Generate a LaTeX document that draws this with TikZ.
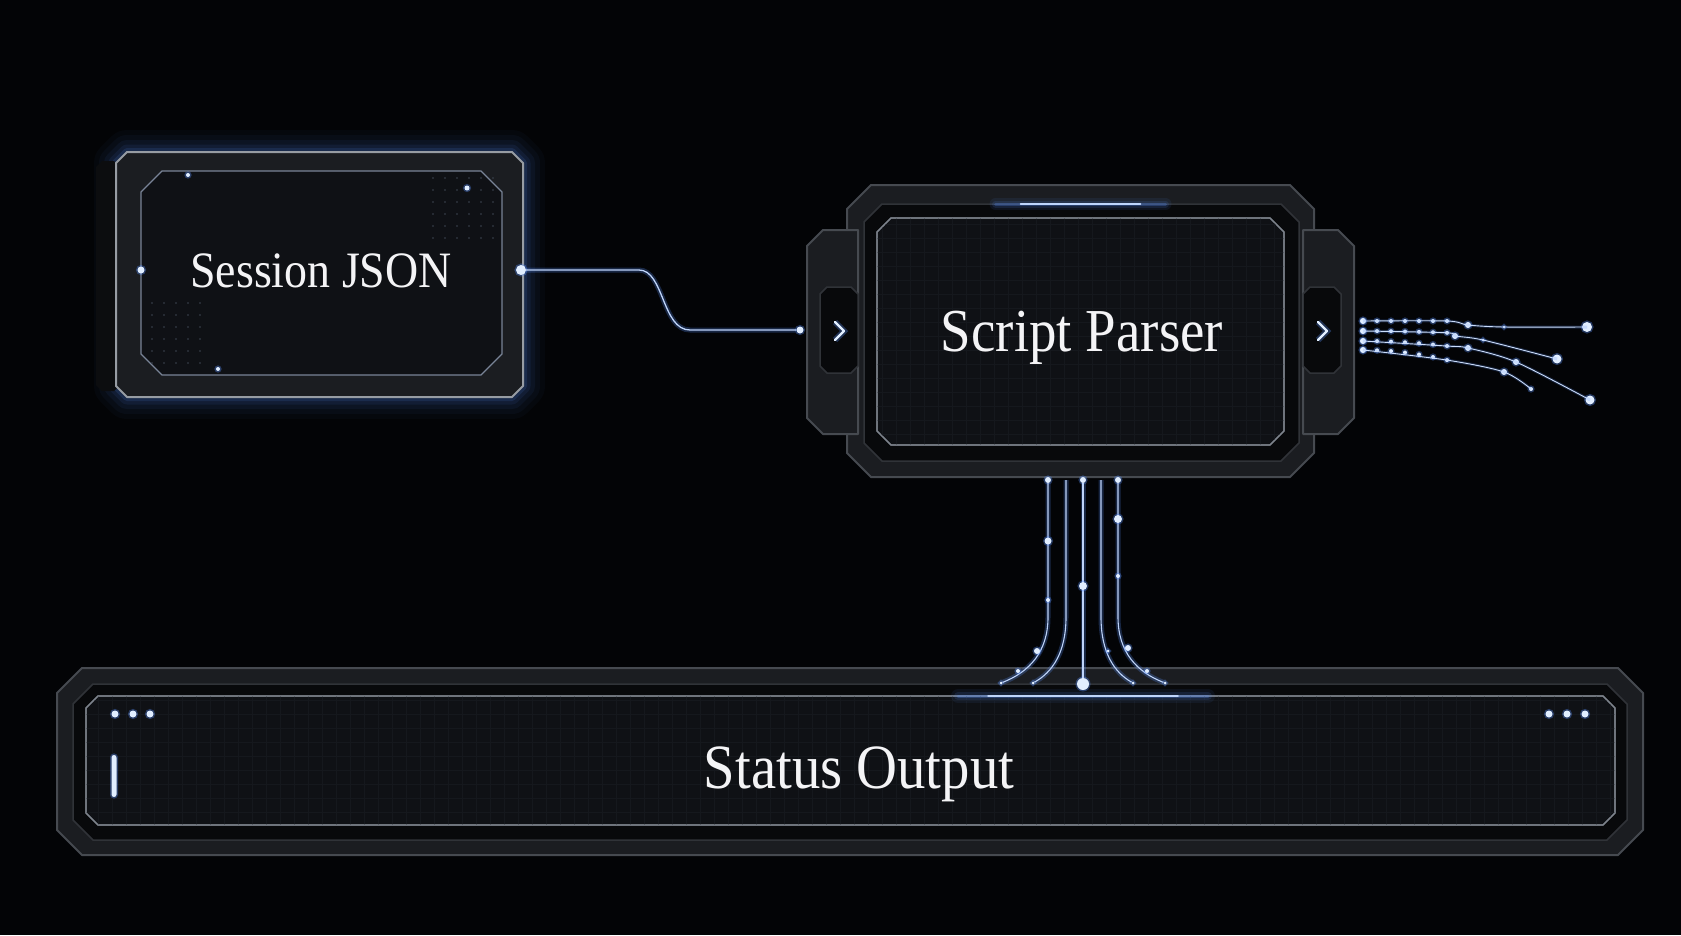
\documentclass[tikz,border=0pt]{standalone}
\usepackage{fontspec}
\setmainfont{Liberation Serif}[FakeStretch=0.9]
\usetikzlibrary{calc, positioning}
\usepackage{xcolor}
\definecolor{bgcolor}{RGB}{3, 4, 6}
\definecolor{bodycolor}{RGB}{27, 29, 33}
\definecolor{bodyedge}{RGB}{70, 74, 80}
\definecolor{slabcolor}{RGB}{12, 13, 15}
\definecolor{framecolor}{RGB}{8, 9, 11}
\definecolor{frameedge}{RGB}{48, 51, 56}
\definecolor{panelcolor}{RGB}{15, 17, 21}
\definecolor{paneledge}{RGB}{125, 131, 140}
\definecolor{gridcolor}{RGB}{21, 24, 29}
\definecolor{faintdot}{RGB}{60, 68, 80}
\definecolor{glowcolor}{RGB}{90, 145, 255}
\definecolor{wirecolor}{RGB}{190, 212, 250}
\definecolor{dotcolor}{RGB}{225, 238, 255}
\definecolor{textcolor}{RGB}{244, 244, 246}

% chamfered outline round a named area node
\newcommand{\chamferpath}[2]{($(#1.north west)+(#2,0)$) -- ($(#1.north east)+(-#2,0)$) -- ($(#1.north east)+(0,#2)$) -- ($(#1.south east)+(0,-#2)$) -- ($(#1.south east)+(-#2,0)$) -- ($(#1.south west)+(#2,0)$) -- ($(#1.south west)+(0,-#2)$) -- ($(#1.north west)+(0,#2)$) -- cycle}

\begin{document}
\begin{tikzpicture}[x=1pt, y=-1pt,
    area/.style={rectangle, inner sep=0pt, outer sep=0pt},
    body/.style={fill=bodycolor, draw=bodyedge, line width=2pt, line join=round},
    frame/.style={fill=framecolor, draw=frameedge, line width=1.5pt},
    panel/.style={fill=panelcolor, draw=paneledge, line width=1.2pt},
    title/.style={anchor=base, inner sep=0pt, text=textcolor, font=\fontsize{#1}{#1}\selectfont},
    dot/.style={circle, inner sep=0pt, minimum size=#1, fill=dotcolor,
                preaction={draw=glowcolor, line width=3pt, draw opacity=.35}},
    dot/.default=4pt,
    wire/.style={draw=wirecolor, line width=1.3pt,
                 preaction={draw=glowcolor, line width=5pt, draw opacity=.25}},
    thinwire/.style={draw=wirecolor!80, line width=0.9pt,
                     preaction={draw=glowcolor, line width=3pt, draw opacity=.2}},
    chevron/.style={draw=dotcolor, line width=2.2pt, line cap=round, line join=round,
                    preaction={draw=glowcolor, line width=6pt, draw opacity=.3}},
    glowline/.style={draw=glowcolor, line cap=round}
]

% background
\fill[bgcolor] (0,0) rectangle (1681,935);
\useasboundingbox (0,0) rectangle (1681,935);

% areas
\node[area, minimum width=407pt, minimum height=245pt] (json) at (319.5,274.5) {};
\node[area, minimum width=361pt, minimum height=204pt] (jsonpanel) at (321.5,273) {};
\node[area, minimum width=24pt, minimum height=230pt] (jsonside) at (108,276) {};

\node[area, minimum width=467pt, minimum height=292pt] (parser) at (1080.5,331) {};
\node[area, minimum width=435pt, minimum height=257pt] (parserframe) at (1081.5,332.5) {};
\node[area, minimum width=407pt, minimum height=227pt] (parserpanel) at (1080.5,331.5) {};
\node[area, minimum width=51pt, minimum height=204pt] (lefttab) at (832.5,332) {};
\node[area, minimum width=51pt, minimum height=204pt] (righttab) at (1328.5,332) {};
\node[area, minimum width=38pt, minimum height=86pt] (leftslot) at (839,330) {};
\node[area, minimum width=38pt, minimum height=86pt] (rightslot) at (1322,330) {};

\node[area, minimum width=1586pt, minimum height=187pt] (status) at (850,761.5) {};
\node[area, minimum width=1554pt, minimum height=156pt] (statusframe) at (850,762) {};
\node[area, minimum width=1529pt, minimum height=129pt] (statuspanel) at (850.5,760.5) {};

% Session JSON
\foreach \w/\o in {44/.03, 34/.04, 24/.06, 15/.08, 8/.12}
    \draw[glowcolor, line width=\w pt, draw opacity=\o, line join=round] \chamferpath{json}{11};
\fill[slabcolor] \chamferpath{jsonside}{6};
\draw[body, draw=paneledge!80] \chamferpath{json}{11};
\draw[panel, draw=paneledge!90!glowcolor] \chamferpath{jsonpanel}{21};
\foreach \i in {0,...,5}
    \foreach \j in {0,...,5}
        \fill[faintdot] (433+\i*12, 178+\j*12) circle (0.9);
\foreach \i in {0,...,4}
    \foreach \j in {0,...,5}
        \fill[faintdot] (152+\i*12, 303+\j*12) circle (0.9);
\node[dot=4pt] (jsonspark1) at (188,175) {};
\node[dot=5pt] (jsonspark2) at (467,188) {};
\node[dot=4pt] (jsonspark3) at (218,369) {};
\node[dot=7pt] (jsonin) at (141,270) {};
\node[dot=10pt] (jsonout) at (521,270) {};
\node[title=51] (jsonlabel) at (321,287) {Session JSON};

% Script Parser
\draw[body] \chamferpath{parser}{24};
\filldraw[body] (lefttab.north east) -- ($(lefttab.north west)+(16,0)$) -- ($(lefttab.north west)+(0,16)$)
    -- ($(lefttab.south west)+(0,-16)$) -- ($(lefttab.south west)+(16,0)$) -- (lefttab.south east) -- cycle;
\filldraw[body] (righttab.north west) -- ($(righttab.north east)+(-16,0)$) -- ($(righttab.north east)+(0,16)$)
    -- ($(righttab.south east)+(0,-16)$) -- ($(righttab.south east)+(-16,0)$) -- (righttab.south west) -- cycle;
\draw[frame] \chamferpath{leftslot}{7};
\draw[frame] \chamferpath{rightslot}{7};
\draw[frame] \chamferpath{parserframe}{18};
\draw[panel] \chamferpath{parserpanel}{14};
\begin{scope}
    \clip \chamferpath{parserpanel}{14};
    \draw[gridcolor, line width=0.6pt, step=14pt] (parserpanel.north west) grid (parserpanel.south east);
\end{scope}
\draw[panel, fill=none] \chamferpath{parserpanel}{14};
\foreach \w/\o in {12/.08, 7/.12, 3/.25}
    \draw[glowline, line width=\w pt, draw opacity=\o] ($(parser.north)+(-85,19)$) -- ($(parser.north)+(85,19)$);
\draw[glowline, line width=1.5pt, draw=wirecolor] ($(parser.north)+(-60,19)$) -- ($(parser.north)+(60,19)$);
\node[area] (chevin) at (839,331) {};
\node[area] (chevout) at (1322,331) {};
\draw[chevron] ($(chevin)+(-4,-9)$) -- ($(chevin)+(5,0)$) -- ($(chevin)+(-4,9)$);
\draw[chevron] ($(chevout)+(-4,-9)$) -- ($(chevout)+(5,0)$) -- ($(chevout)+(-4,9)$);
\node[dot=7pt] (parserin) at (800,330) {};
\node[title=61] (parserlabel) at (1082,351) {Script Parser};

% Session JSON -> Script Parser
\coordinate (bendA) at (639,270);
\coordinate (bendB) at (690,330);
\draw[wire] (jsonout) -- (bendA) .. controls (664,270) and (662,330) .. (bendB) -- (parserin);

% Script Parser fan-out on the right
\foreach \r/\y/\d in {1/321/0, 2/331/0.05, 3/341/0.14, 4/350/0.28}
    \foreach \k in {0,...,6}
        \node[dot=4pt] (fo\r-\k) at ({1363+14*\k}, {\y+\d*\k*\k}) {};
\foreach \r in {1,...,4}
    \node[dot=6pt] at (fo\r-0) {};
\node[dot=6pt] (r1a) at (1468,325) {};
\node[dot=3pt] (r1b) at (1504,327) {};
\node[dot=10pt] (end1) at (1587,327) {};
\node[dot=6pt] (r2a) at (1455,336) {};
\node[dot=3pt] (r2b) at (1483,340) {};
\node[dot=9pt] (end2) at (1557,359) {};
\node[dot=6pt] (r3a) at (1468,348) {};
\node[dot=6pt] (r3b) at (1516,362) {};
\node[dot=9pt] (end3) at (1590,400) {};
\node[dot=6pt] (r4b) at (1504,372) {};
\node[dot=4pt] (end4) at (1531,389) {};
\draw[thinwire] plot[smooth] coordinates {(fo1-0) (fo1-6) (r1a) (r1b) (end1)};
\draw[thinwire] plot[smooth] coordinates {(fo2-0) (fo2-6) (r2a) (r2b) (end2)};
\draw[thinwire] plot[smooth] coordinates {(fo3-0) (fo3-6) (r3a) (r3b) (end3)};
\draw[thinwire] plot[smooth] coordinates {(fo4-0) (fo4-6) (r4b) (end4)};

% Status Output
\draw[body] \chamferpath{status}{25};
\draw[frame] \chamferpath{statusframe}{20};
\draw[panel] \chamferpath{statuspanel}{12};
\begin{scope}
    \clip \chamferpath{statuspanel}{12};
    \draw[gridcolor, line width=0.6pt, step=14pt] (statuspanel.north west) grid (statuspanel.south east);
\end{scope}
\draw[panel, fill=none] \chamferpath{statuspanel}{12};
\node[area] (hub) at (1083,684) {};
\foreach \w/\o in {14/.07, 8/.12, 3/.25}
    \draw[glowline, line width=\w pt, draw opacity=\o] ($(hub)+(-125,12)$) -- ($(hub)+(125,12)$);
\draw[glowline, line width=1.5pt, draw=wirecolor] ($(hub)+(-95,12)$) -- ($(hub)+(95,12)$);
\foreach \i/\x in {1/115, 2/133, 3/150}
    \node[dot=7pt] (lampL\i) at (\x,714) {};
\foreach \i/\x in {1/1549, 2/1567, 3/1585}
    \node[dot=7pt] (lampR\i) at (\x,714) {};
\node[area, minimum width=5pt, minimum height=42pt, fill=dotcolor, rounded corners=2.5pt,
      preaction={draw=glowcolor, line width=3pt, draw opacity=.35}] (cursor) at (114,776) {};
\node[title=63] (statuslabel) at (859,788) {Status Output};

% Script Parser -> Status Output
\node[dot=6pt] (fantop1) at (1048,480) {};
\coordinate (fantop2) at (1066,480);
\node[dot=6pt] (fantop3) at (1083,480) {};
\coordinate (fantop4) at (1101,480);
\node[dot=6pt] (fantop5) at (1118,480) {};
\node[dot=12pt] (fanend3) at (hub) {};
\foreach \n/\xa/\xb in {1/1048/1001, 2/1066/1033, 4/1101/1133, 5/1118/1165} {
    \pgfmathsetmacro\xc{\xa+0.4*(\xb-\xa)}
    \coordinate (fanbend\n) at (\xa,617);
    \node[dot=3pt] (fanend\n) at (\xb,683) {};
    \draw[wire, line width=1.1pt] (fantop\n) -- (fanbend\n) .. controls (\xa,652) and (\xc,672) .. (fanend\n);
}
\draw[wire, line width=1.6pt] (fantop3) -- (fanend3);
\node[dot=7pt] (fandot1a) at (1048,541) {};
\node[dot=4pt] (fandot1b) at (1048,600) {};
\node[dot=6pt] (fandot1c) at (1037,651) {};
\node[dot=4pt] (fandot1d) at (1018,671) {};
\node[dot=8pt] (fandot3a) at (1083,586) {};
\node[dot=3pt] (fandot4a) at (1108,651) {};
\node[dot=8pt] (fandot5a) at (1118,519) {};
\node[dot=4pt] (fandot5b) at (1118,576) {};
\node[dot=6pt] (fandot5c) at (1128,648) {};
\node[dot=4pt] (fandot5d) at (1147,671) {};

\end{tikzpicture}
\end{document}
